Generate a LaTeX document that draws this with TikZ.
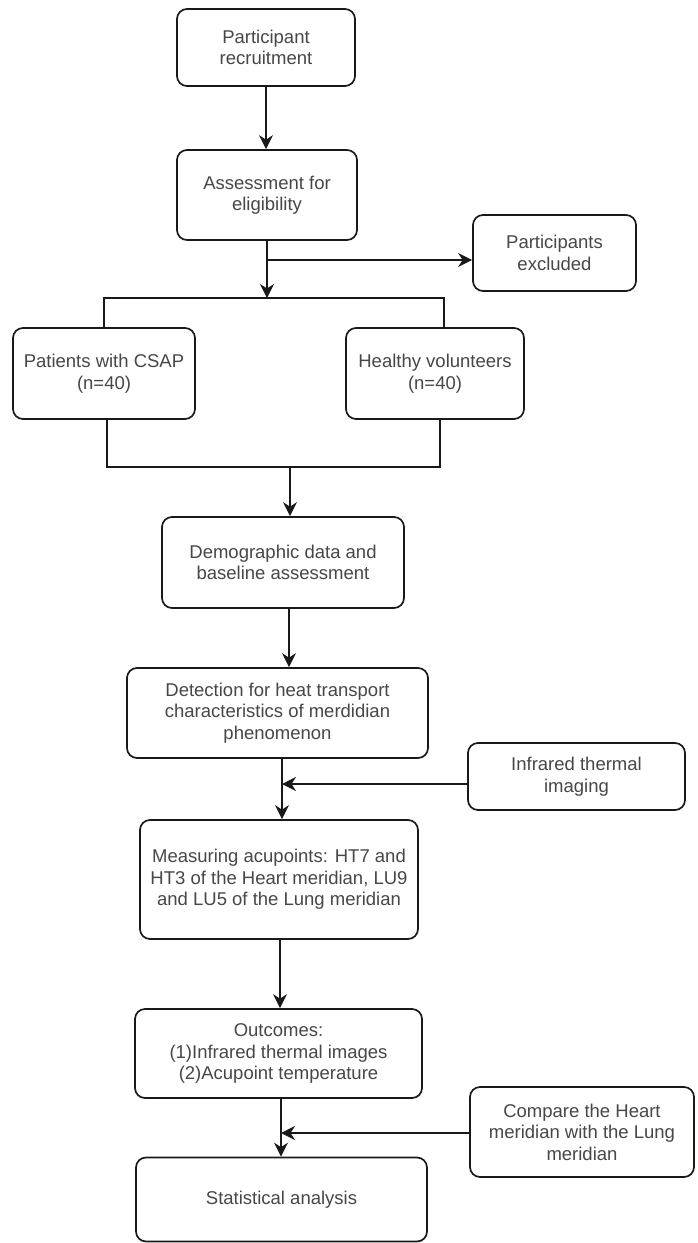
\documentclass[tikz,border=0pt]{standalone}
\usepackage{fontspec}
\setmainfont{Liberation Sans}
\usetikzlibrary{arrows.meta}
\begin{document}
\begin{tikzpicture}[x=1pt,y=-1pt,
  box/.style={draw=black!90, line width=1.7pt, rounded corners=10pt, fill=white,
    align=center, inner sep=2pt, text=black!72,
    font=\fontsize{18.5}{21.5}\selectfont},
  ln/.style={draw=black!90, line width=1.7pt},
  arr/.style={ln, -{Stealth[length=14pt,width=14pt,inset=4.5pt]}}
]
\useasboundingbox (0,0) rectangle (697,1243);
\fill[white] (0,0) rectangle (697,1243);

\node[box, minimum width=178pt, minimum height=77pt] (n1) at (266,47.5) {Participant\\recruitment};
\node[box, minimum width=180pt, minimum height=90pt] (n2) at (267,195) {Assessment for\\eligibility};
\node[box, minimum width=163pt, minimum height=76pt] (excl) at (554.5,253) {Participants\\excluded};
\node[box, minimum width=182pt, minimum height=91pt] (pat) at (104,373.5) {Patients with CSAP\\(n=40)};
\node[box, minimum width=178pt, minimum height=91pt] (hea) at (435,373.5) {Healthy volunteers\\(n=40)};
\node[box, minimum width=242pt, minimum height=91pt] (demo) at (283,562.5) {Demographic data and\\baseline assessment};
\node[box, minimum width=301pt, minimum height=90pt] (det) at (277.5,713) {Detection for heat transport\\characteristics of merdidian\\phenomenon};
\node[box, minimum width=217pt, minimum height=67pt] (inf) at (576.5,776.5) {Infrared thermal\\imaging};
\node[box, minimum width=278pt, minimum height=119pt] (meas) at (279,879.5) {Measuring acupoints: HT7 and\\HT3 of the Heart meridian, LU9\\and LU5 of the Lung meridian};
\node[box, minimum width=287pt, minimum height=89pt] (out) at (278.5,1053.5) {Outcomes:\\(1)Infrared thermal images\\(2)Acupoint temperature};
\node[box, minimum width=224pt, minimum height=90pt] (cmp) at (582,1132) {Compare the Heart\\meridian with the Lung\\meridian};
\node[box, minimum width=291pt, minimum height=84pt] (stat) at (281.5,1199.5) {Statistical analysis};

% coordinates for junctions
\coordinate (j1) at (267,260);
\coordinate (bar) at (267,298);
\coordinate (barL) at (104,298);
\coordinate (barR) at (444,298);
\coordinate (botL) at (107,467);
\coordinate (botR) at (440,467);
\coordinate (bar2) at (290,467);
\coordinate (c2) at (289,600);
\coordinate (j2) at (282,784);
\coordinate (c4) at (280,900);
\coordinate (j3) at (281,1133);

\draw[arr] (n1.south) -- (n1.south |- n2.north);
\draw[arr] (n2.south) -- (bar);
\draw[arr] (j1) -- (excl.west |- j1);
\draw[ln] (barL |- pat.north) -- (barL) -- (barR) -- (barR |- hea.north);
\draw[ln] (botL |- pat.south) -- (botL) -- (botR) -- (botR |- hea.south);
\draw[arr] (bar2) -- (bar2 |- demo.north);
\draw[arr] (c2 |- demo.south) -- (c2 |- det.north);
\draw[arr] (j2 |- det.south) -- (j2 |- meas.north);
\draw[arr] (inf.west |- j2) -- (j2);
\draw[arr] (c4 |- meas.south) -- (c4 |- out.north);
\draw[arr] (j3 |- out.south) -- (j3 |- stat.north);
\draw[arr] (cmp.west |- j3) -- (j3);
\end{tikzpicture}
\end{document}
